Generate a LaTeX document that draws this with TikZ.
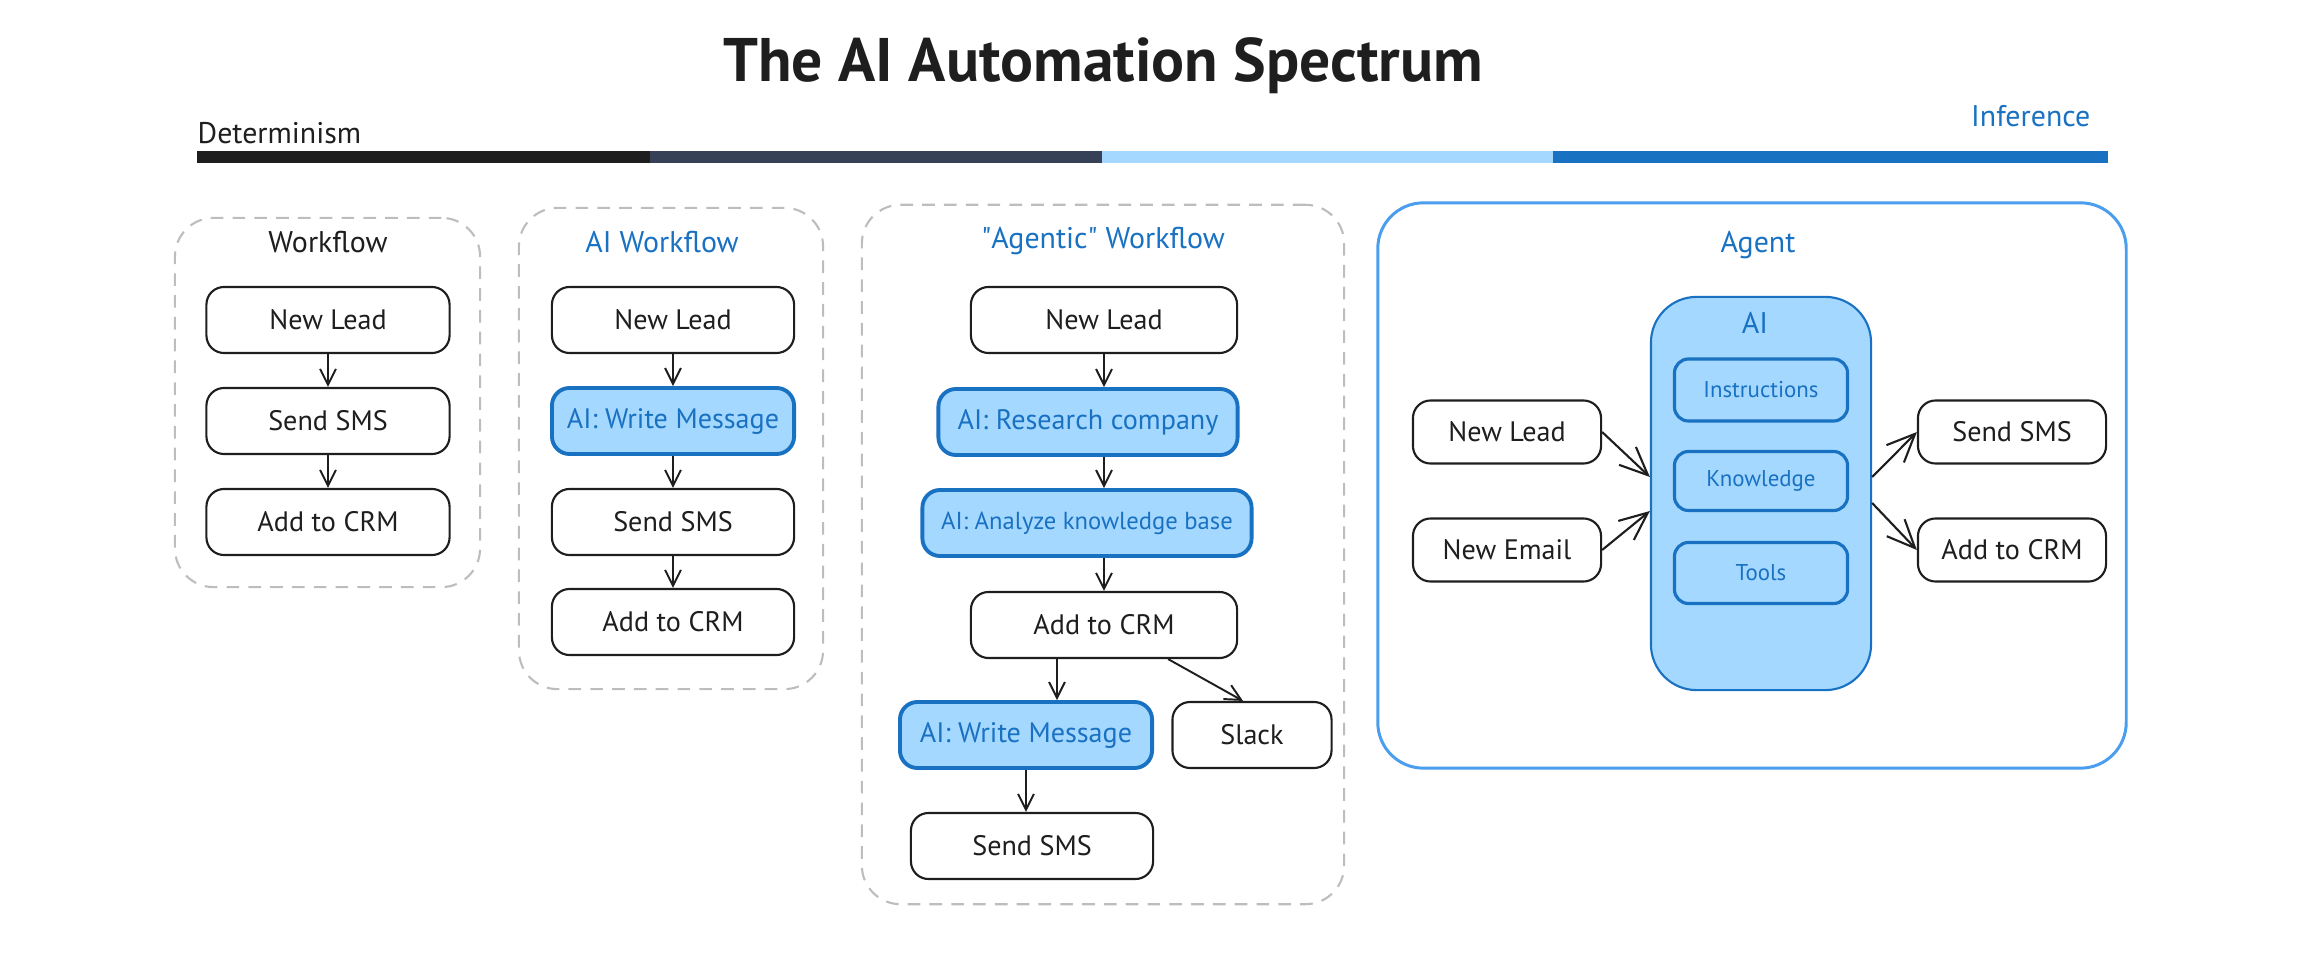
\documentclass[tikz,border=0pt]{standalone}
\usepackage{fontspec}
\setmainfont{PT Sans}
\usepackage{xcolor}
\usepackage{tikz}
\usetikzlibrary{arrows.meta,positioning,calc}
\definecolor{ink}{HTML}{1E1E1E}
\definecolor{slate}{HTML}{364057}
\definecolor{skyfill}{HTML}{A5D8FF}
\definecolor{aiblue}{HTML}{1971C2}
\definecolor{agentblue}{HTML}{4A9EED}
\definecolor{framegray}{HTML}{BDBDBD}
\tikzset{
  taskbox/.style={draw=ink, line width=0.6pt, rounded corners=5pt, align=center, fill=white, text=ink, inner sep=0pt, minimum height=6.6mm, font=\fontsize{8}{10}\selectfont},
  aitask/.style={taskbox, draw=aiblue, line width=1.1pt, fill=skyfill, text=aiblue},
  toolbox/.style={draw=aiblue, line width=0.9pt, rounded corners=4pt, align=center, text=aiblue, inner sep=0pt, minimum width=17.3mm, font=\fontsize{6.5}{8}\selectfont},
  aicore/.style={draw=aiblue, line width=0.6pt, rounded corners=13pt, fill=skyfill, inner sep=0pt, minimum width=22mm, minimum height=39.3mm},
  frame/.style={draw=framegray, line width=0.6pt, dash pattern=on 3.6pt off 2.6pt, rounded corners=11pt, inner sep=0pt},
  agentframe/.style={draw=agentblue, line width=0.85pt, rounded corners=13pt, inner sep=0pt},
  heading/.style={anchor=base, text=ink, inner sep=0pt, font=\fontsize{8.5}{10}\selectfont},
  flow/.style={-{Straight Barb[length=4.5pt,width=4.5pt]}, line width=0.55pt, draw=ink},
  bigflow/.style={-{Straight Barb[length=8pt,width=7pt]}, line width=0.6pt, draw=ink}
}

\begin{document}
\begin{tikzpicture}[x=0.01cm, y=-0.01cm]
  \useasboundingbox (0,0) rectangle (2312,964);

  \node[anchor=base, text=ink, font=\fontsize{17.5}{21}\selectfont\bfseries] (title) at (1103,82) {The AI Automation Spectrum};
  \foreach \xa/\xb/\col in {197/650/ink, 650/1102/slate, 1102/1553/skyfill, 1553/2108/aiblue} {
    \fill[\col] (\xa,151) rectangle (\xb,163);
  }
  \node[heading, anchor=base west] (determ) at (197,144) {Determinism};
  \node[heading, anchor=base east, text=aiblue] (infer) at (2091,127) {Inference};

  \node[frame, minimum width=3.05cm, minimum height=3.69cm] (wfframe) at (327.5,402.5) {};
  \node[heading] (wftitle) at (328,253) {Workflow};
  \node[taskbox, minimum width=2.43cm] (wlead) at (328,320) {New Lead};
  \node[taskbox, minimum width=2.43cm] (wsms) at (328,421) {Send SMS};
  \node[taskbox, minimum width=2.43cm] (wcrm) at (328,522) {Add to CRM};
  \draw[flow] (wlead) -- (wsms);
  \draw[flow] (wsms) -- (wcrm);

  \node[frame, minimum width=3.04cm, minimum height=4.81cm] (aiframe) at (671,448.5) {};
  \node[heading, text=aiblue] (aititle) at (662,253) {AI Workflow};
  \node[taskbox, minimum width=2.42cm] (alead) at (673,320) {New Lead};
  \node[aitask, minimum width=2.42cm] (awrite) at (673,421) {AI: Write Message};
  \node[taskbox, minimum width=2.42cm] (asms) at (673,522) {Send SMS};
  \node[taskbox, minimum width=2.42cm] (acrm) at (673,622) {Add to CRM};
  \draw[flow] (alead) -- (awrite);
  \draw[flow] (awrite) -- (asms);
  \draw[flow] (asms) -- (acrm);

  \node[frame, minimum width=4.82cm, minimum height=6.99cm] (agframe) at (1103,554.5) {};
  \node[heading, text=aiblue] (agtitle) at (1103,249) {\textquotedbl Agentic\textquotedbl\ Workflow};
  \node[taskbox, minimum width=2.66cm] (glead) at (1104,320) {New Lead};
  \node[aitask, minimum width=2.99cm] (gresearch) at (1088,422) {AI: Research company};
  \node[aitask, minimum width=3.29cm, font=\fontsize{7}{9}\selectfont] (ganalyze) at (1087,523) {AI: Analyze knowledge base};
  \node[taskbox, minimum width=2.66cm] (gcrm) at (1104,625) {Add to CRM};
  \node[aitask, minimum width=2.52cm] (gwrite) at (1026,735) {AI: Write Message};
  \node[taskbox, minimum width=1.59cm] (gslack) at (1252,735) {Slack};
  \node[taskbox, minimum width=2.42cm] (gsms) at (1032,846) {Send SMS};
  \draw[flow] (glead.south) -- (glead.south |- gresearch.north);
  \draw[flow] (glead.south |- gresearch.south) -- (glead.south |- ganalyze.north);
  \draw[flow] (glead.south |- ganalyze.south) -- (gcrm.north);
  \draw[flow] ([xshift=-0.47cm]gcrm.south) -- ([xshift=-0.47cm]gcrm.south |- gwrite.north);
  \draw[flow] ([xshift=-0.7cm]gcrm.south east) -- ([xshift=-0.09cm]gslack.north);
  \draw[flow] (gwrite.south) -- (gwrite.south |- gsms.north);

  \node[agentframe, minimum width=7.48cm, minimum height=5.65cm] (agentframe) at (1752,485.5) {};
  \node[heading, text=aiblue] (agenttitle) at (1758,253) {Agent};
  \node[aicore] (ai) at (1761,493.5) {};
  \node[heading, text=aiblue] (ailabel) at (1755,334) {AI};
  \node[toolbox, minimum height=6.2mm] (instr) at (1761,390) {Instructions};
  \node[toolbox, minimum height=5.9mm] (know) at (1761,481) {Knowledge};
  \node[toolbox, minimum height=6.1mm] (tools) at (1761,573) {Tools};
  \node[taskbox, minimum width=1.88cm, minimum height=6.3mm] (nlead) at (1507,432) {New Lead};
  \node[taskbox, minimum width=1.88cm, minimum height=6.3mm] (nemail) at (1507,550) {New Email};
  \node[taskbox, minimum width=1.88cm, minimum height=6.3mm] (nsms) at (2012,432) {Send SMS};
  \node[taskbox, minimum width=1.88cm, minimum height=6.3mm] (ncrm) at (2012,550) {Add to CRM};
  \draw[bigflow] (nlead.east) -- ([yshift=0.165cm]ai.west);
  \draw[bigflow] (nemail.east) -- ([yshift=-0.175cm]ai.west);
  \draw[bigflow] ([yshift=0.165cm]ai.east) -- (nsms.west);
  \draw[bigflow] ([yshift=-0.095cm]ai.east) -- (ncrm.west);
\end{tikzpicture}
\end{document}
